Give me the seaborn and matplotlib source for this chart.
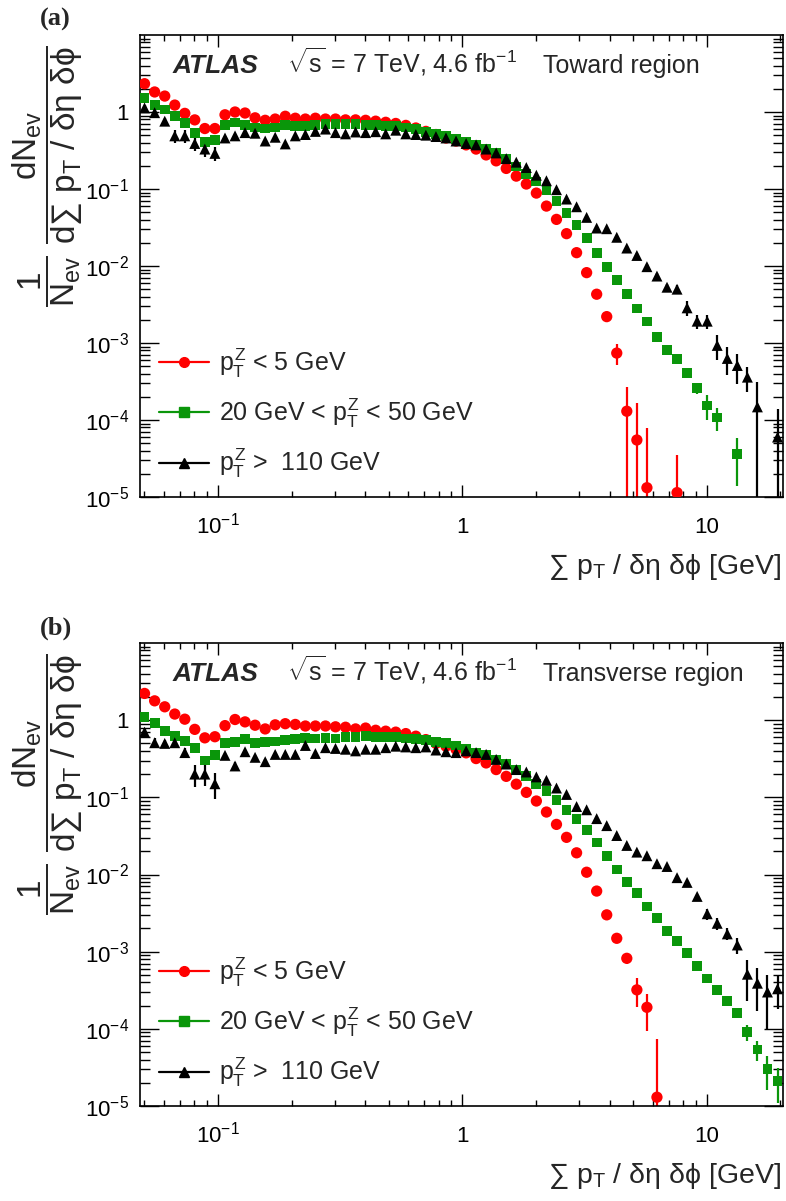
# ATLAS underlying-event plot: sum pT density in the toward / transverse regions
import numpy as np
import pandas as pd
import matplotlib
matplotlib.use('Agg')
import matplotlib.pyplot as plt
import seaborn as sns
from matplotlib.ticker import LogLocator, NullFormatter
from matplotlib.lines import Line2D

nan = np.nan

# bin centres of sum pT / (deta dphi) [GeV]
x_centers = [0.0501, 0.0551, 0.0606, 0.0666, 0.0732, 0.0804, 0.0884, 0.0972,
             0.1069, 0.1175, 0.1291, 0.1419, 0.1561, 0.1715, 0.1886, 0.2073,
             0.2279, 0.2505, 0.2754, 0.3027, 0.3327, 0.3657, 0.4020, 0.4419,
             0.4858, 0.5340, 0.5870, 0.6452, 0.7093, 0.7797, 0.8570, 0.9421,
             1.036, 1.138, 1.251, 1.375, 1.512, 1.662, 1.827, 2.008,
             2.208, 2.427, 2.668, 2.933, 3.224, 3.544, 3.896, 4.282,
             4.707, 5.175, 5.689, 6.253, 6.874, 7.556, 8.306, 9.131,
             10.04, 11.03, 12.13, 13.33, 14.66, 16.11, 17.71, 19.47]

# ---- (a) Toward region ----
toward_low = [2.33, 1.82, 1.61, 1.23, 0.96, 0.79, 0.61, 0.61,
              0.92, 1.00, 0.97, 0.84, 0.78, 0.81, 0.88, 0.83,
              0.81, 0.83, 0.81, 0.81, 0.79, 0.79, 0.78, 0.76,
              0.735, 0.71, 0.67, 0.62, 0.56, 0.51, 0.46, 0.42,
              0.374, 0.33, 0.277, 0.232, 0.185, 0.147, 0.116, 0.0885,
              0.060, 0.0403, 0.0263, 0.0149, 0.0082, 0.0043, 0.0022, 7.4e-4,
              1.3e-4, 5.5e-5, 1.32e-5, nan, nan, 1.14e-5, nan, nan,
              nan, nan, nan, nan, nan, nan, nan, nan]
toward_low_err = [0] * 40 + [0, 0, 0, 0, 4e-4, 3e-4, 2e-4, 2.2e-4,
                             1.4e-4, 1.1e-4, 6.5e-5, 0, 0, 2.4e-5, 0, 0,
                             0, 0, 0, 0, 0, 0, 0, 0]

toward_mid = [1.53, 1.22, 1.08, 0.89, 0.72, 0.54, 0.41, 0.43,
              0.67, 0.73, 0.67, 0.63, 0.61, 0.63, 0.67, 0.66,
              0.66, 0.67, 0.69, 0.69, 0.69, 0.69, 0.68, 0.67,
              0.66, 0.66, 0.63, 0.60, 0.556, 0.514, 0.49, 0.45,
              0.41, 0.374, 0.33, 0.29, 0.244, 0.196, 0.157, 0.125,
              0.097, 0.069, 0.049, 0.0344, 0.0229, 0.0149, 0.0098, 0.0065,
              0.0043, 0.0028, 0.0019, 0.00119, 8.2e-4, 6.2e-4, 4.1e-4, 2.6e-4,
              1.54e-4, 1.08e-4, nan, 3.6e-5, nan, nan, nan, nan]
toward_mid_err = [0] * 48 + [0, 0, 0, 0, 0, 2e-5, 2.5e-5, 4e-5,
                             5.5e-5, 3.5e-5, 0, 2.2e-5, 0, 0, 0, 0]

toward_high = [1.13, 0.98, 0.76, 0.49, 0.49, 0.39, 0.33, 0.29,
               0.46, 0.49, 0.54, 0.53, 0.42, 0.47, 0.385, 0.49,
               0.51, 0.56, 0.60, 0.54, 0.52, 0.55, 0.54, 0.555,
               0.52, 0.58, 0.52, 0.51, 0.50, 0.48, 0.46, 0.42,
               0.39, 0.374, 0.33, 0.294, 0.248, 0.223, 0.19, 0.151,
               0.128, 0.098, 0.074, 0.0588, 0.0428, 0.0311, 0.0305, 0.0236,
               0.0171, 0.0137, 0.0098, 0.0074, 0.0053, 0.0050, 0.00286, 0.00192,
               0.00192, 9.3e-4, 6.3e-4, 5.1e-4, 3.6e-4, 1.48e-4, nan, 6.0e-5]
toward_high_err = [0.12, 0.10, 0.08, 0.10, 0.10, 0.08, 0.07, 0.06] + [0] * 40 + \
                  [0.001, 0.001, 8e-4, 7e-4, 6e-4, 6e-4, 6e-4, 4e-4,
                   4e-4, 3.3e-4, 2.5e-4, 2.2e-4, 1.3e-4, 1.6e-4, 0, 8e-5]

# ---- (b) Transverse region ----
transverse_low = [2.22, 1.78, 1.49, 1.20, 1.03, 0.76, 0.59, 0.61,
                  0.85, 1.02, 0.95, 0.86, 0.77, 0.87, 0.90, 0.88,
                  0.84, 0.84, 0.84, 0.82, 0.81, 0.77, 0.79, 0.74,
                  0.72, 0.70, 0.67, 0.62, 0.56, 0.50, 0.46, 0.42,
                  0.377, 0.318, 0.279, 0.229, 0.187, 0.148, 0.116, 0.0896,
                  0.0645, 0.0446, 0.0303, 0.0191, 0.0107, 0.0061, 0.0030, 0.00149,
                  8.2e-4, 3.2e-4, 1.9e-4, 1.3e-5, nan, nan, nan, nan,
                  nan, nan, nan, nan, nan, nan, nan, nan]
transverse_low_err = [0] * 40 + [0, 0, 0, 0, 0, 0, 2e-4, 1e-4,
                                 1.3e-4, 1.3e-4, 9.5e-5, 6e-5, 0, 0, 0, 0,
                                 0, 0, 0, 0, 0, 0, 0, 0]

transverse_mid = [1.10, 0.91, 0.72, 0.62, 0.54, 0.44, 0.30, 0.35,
                  0.51, 0.52, 0.57, 0.51, 0.52, 0.53, 0.55, 0.57,
                  0.59, 0.58, 0.59, 0.58, 0.61, 0.60, 0.63, 0.61,
                  0.61, 0.60, 0.58, 0.57, 0.55, 0.52, 0.51, 0.47,
                  0.42, 0.38, 0.35, 0.31, 0.27, 0.229, 0.191, 0.150,
                  0.121, 0.093, 0.069, 0.052, 0.038, 0.026, 0.0173, 0.0116,
                  0.0079, 0.0057, 0.00384, 0.0027, 0.00184, 0.00139, 9.5e-4, 6.5e-4,
                  4.5e-4, 3.2e-4, 2.3e-4, 1.6e-4, 9.0e-5, 5.4e-5, 3.0e-5, 2.1e-5]
transverse_mid_err = [0] * 56 + [0, 0, 1.5e-5, 2e-5, 2.1e-5, 1.6e-5, 1.4e-5, 1.0e-5]

transverse_high = [0.70, 0.51, 0.50, 0.51, 0.38, 0.20, 0.20, 0.15,
                   0.35, 0.255, 0.39, 0.33, 0.29, 0.36, 0.36, 0.36,
                   0.47, 0.37, 0.44, 0.43, 0.42, 0.40, 0.42, 0.42,
                   0.44, 0.46, 0.45, 0.44, 0.45, 0.41, 0.39, 0.38,
                   0.40, 0.38, 0.36, 0.31, 0.27, 0.229, 0.213, 0.184,
                   0.166, 0.132, 0.109, 0.076, 0.069, 0.053, 0.043, 0.032,
                   0.0238, 0.0195, 0.0175, 0.0138, 0.0127, 0.0091, 0.0079, 0.0052,
                   0.0031, 0.00233, 0.0017, 0.00122, 5.1e-4, 3.9e-4, 3.0e-4, 3.3e-4]
transverse_high_err = [0.10, 0.07, 0.06, 0.06, 0.06, 0.065, 0.06, 0.055,
                       0.02, 0.03, 0.02, 0.02, 0.02, 0, 0, 0] + [0] * 32 + \
                      [0, 0, 0, 0, 0, 3e-4, 3e-4, 3e-4,
                       5e-4, 4e-4, 3e-4, 3e-4, 2.8e-4, 2.2e-4, 2.0e-4, 1.5e-4]

samples = ['low', 'mid', 'high']
legend_labels = [r'$p_T^Z$ < 5 GeV',
                 r'20 GeV < $p_T^Z$ < 50 GeV',
                 r'$p_T^Z$ >  110 GeV']
colors = {'low': '#ff0000', 'mid': '#0a960a', 'high': '#000000'}
markers = {'low': 'o', 'mid': 's', 'high': '^'}
sizes = {'low': 66, 'mid': 50, 'high': 62}

y_ticks = [1e-5, 1e-4, 1e-3, 1e-2, 1e-1, 1]
y_tick_labels = [r'$10^{-5}$', r'$10^{-4}$', r'$10^{-3}$', r'$10^{-2}$', r'$10^{-1}$', '1']
x_ticks = [0.1, 1, 10]
x_tick_labels = [r'$10^{-1}$', '1', '10']

sns.set_theme(style='ticks')
plt.rcParams['font.family'] = ['Liberation Sans', 'DejaVu Sans']
plt.rcParams['mathtext.fontset'] = 'custom'
plt.rcParams['mathtext.rm'] = 'Liberation Sans'
plt.rcParams['mathtext.it'] = 'Liberation Sans'
plt.rcParams['mathtext.sf'] = 'Liberation Sans'
plt.rcParams['mathtext.bf'] = 'Liberation Sans:bold'


def draw_panel(ax, series, errors, region):
    frames = []
    for name, vals in zip(samples, series):
        frames.append(pd.DataFrame({'x': x_centers, 'y': vals, 'sample': name}))
    df = pd.concat(frames, ignore_index=True).dropna()

    for name, vals, errs in zip(samples, series, errors):
        ax.errorbar(x_centers, vals, yerr=errs, fmt='none', ecolor=colors[name],
                    elinewidth=1.6, capsize=0, zorder=2)

    sns.scatterplot(data=df, x='x', y='y', hue='sample', style='sample', size='sample',
                    hue_order=samples, style_order=samples, size_order=samples,
                    palette=colors, markers=markers, sizes=sizes,
                    linewidth=0, legend=False, ax=ax, zorder=3)

    ax.set_xscale('log')
    ax.set_yscale('log')
    ax.set_xlim(0.048, 20.5)
    ax.set_ylim(1e-5, 10)

    ax.set_yticks(y_ticks, labels=y_tick_labels)
    ax.set_xticks(x_ticks, labels=x_tick_labels)
    ax.xaxis.set_minor_locator(LogLocator(base=10, subs=range(2, 10), numticks=20))
    ax.yaxis.set_minor_locator(LogLocator(base=10, subs=range(2, 10), numticks=20))
    ax.xaxis.set_minor_formatter(NullFormatter())
    ax.yaxis.set_minor_formatter(NullFormatter())
    ax.tick_params(which='both', direction='in', top=True, right=True,
                   colors='black', width=1.0, labelsize=16)
    ax.tick_params(axis='y', which='major', length=14, pad=8)
    ax.tick_params(axis='y', which='minor', length=7)
    ax.tick_params(axis='x', which='major', length=8.5, pad=26)
    ax.tick_params(axis='x', which='minor', length=4.3)
    for lab in ax.get_xticklabels():
        lab.set_verticalalignment('baseline')
    for side in ax.spines.values():
        side.set_color('black')
        side.set_linewidth(1.2)

    ax.set_xlabel('')
    ax.set_ylabel('')
    ax.text(0.997, -0.118, r'$\sum\ p_T\ /\ \delta\eta\ \delta\phi$ [GeV]',
            transform=ax.transAxes, ha='right', va='top', fontsize=20.5)
    ax.text(-0.143, 0.978,
            r'$\dfrac{1}{N_{ev}}\ \dfrac{dN_{ev}}{d\sum\ p_T\ /\ \delta\eta\ \delta\phi}$',
            transform=ax.transAxes, rotation=90, ha='center', va='top', fontsize=24)

    ax.text(0.051, 0.918, 'ATLAS', transform=ax.transAxes, fontsize=19,
            fontweight='bold', fontstyle='italic', va='baseline')
    ax.text(0.229, 0.918, r'$\sqrt{s}$ = 7 TeV, 4.6 fb$^{-1}$', transform=ax.transAxes,
            fontsize=18, va='baseline')
    ax.text(0.627, 0.918, region, transform=ax.transAxes, fontsize=18, va='baseline')

    handles = [Line2D([0], [0], color=colors[s], marker=markers[s], markersize=7,
                      lw=1.6) for s in samples]
    ax.legend(handles, legend_labels, loc='lower left', bbox_to_anchor=(0.0295, 0.036),
              frameon=False, fontsize=18, handlelength=2.0, handletextpad=0.4,
              labelspacing=0.67, borderpad=0, borderaxespad=0)


fig = plt.figure(figsize=(7.86, 12.01), dpi=100, facecolor='white')
ax_a = fig.add_axes([140 / 786, (1201 - 497) / 1201, 643 / 786, 462 / 1201])
ax_b = fig.add_axes([140 / 786, (1201 - 1106) / 1201, 643 / 786, 463 / 1201])

draw_panel(ax_a, [toward_low, toward_mid, toward_high],
           [toward_low_err, toward_mid_err, toward_high_err], 'Toward region')
draw_panel(ax_b, [transverse_low, transverse_mid, transverse_high],
           [transverse_low_err, transverse_mid_err, transverse_high_err], 'Transverse region')

fig.text(40 / 786, 1 - 8 / 1201, '(a)', family='Liberation Serif', weight='bold',
         fontsize=19, ha='left', va='top')
fig.text(40 / 786, 1 - 617 / 1201, '(b)', family='Liberation Serif', weight='bold',
         fontsize=19, ha='left', va='top')

fig.savefig('out.png', dpi=100, facecolor='white')
